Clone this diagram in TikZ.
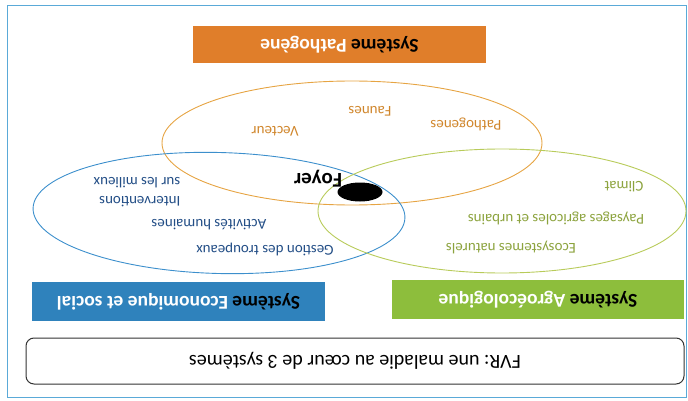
\documentclass[tikz,border=0pt]{standalone}
\usepackage{fontspec}
\setmainfont{Carlito}
\usetikzlibrary{shapes.geometric}
\definecolor{pathofill}{HTML}{E07E2A}
\definecolor{econfill}{HTML}{2F82BC}
\definecolor{agrofill}{HTML}{8DBE3C}
\definecolor{patholine}{HTML}{E6A443}
\definecolor{econline}{HTML}{3C8FCC}
\definecolor{agroline}{HTML}{B8CB5A}
\definecolor{pathotext}{HTML}{D0862C}
\definecolor{econtext}{HTML}{234E86}
\definecolor{agrotext}{HTML}{8CA33E}
\definecolor{framecol}{HTML}{5AAAD8}
\tikzset{
  sysbox/.style={rotate=180, inner sep=0pt, text=black,
                 font=\bfseries\fontsize{19.5}{23}\selectfont},
  sysell/.style={ellipse, draw, line width=0.9pt, inner sep=0pt},
  lbl/.style={rotate=180, inner sep=0pt, font=\fontsize{15}{19}\selectfont}
}
\begin{document}
\begin{tikzpicture}[x=1pt,y=-1pt]
\useasboundingbox (0,0) rectangle (688,401);
\draw[framecol, line width=1pt] (7,6) rectangle (686,397);
% les trois systemes
\node[sysbox, fill=pathofill, minimum width=293pt, minimum height=37pt] (pathobox) at (339.5,44.5) {Système \textcolor{white}{Pathogène}};
\node[sysbox, fill=econfill, minimum width=293pt, minimum height=39pt] (econbox) at (178.5,301.5) {Système \textcolor{white}{Economique et social}};
\node[sysbox, fill=agrofill, minimum width=292pt, minimum height=39pt] (agrobox) at (538,299.5) {Système \textcolor{white}{Agroécologique}};
\node[sysell, draw=patholine, minimum width=380pt, minimum height=124pt] (pathoell) at (352,143) {};
\node[sysell, draw=econline, minimum width=372pt, minimum height=121pt, rotate=-1.5] (econell) at (219,213) {};
\node[sysell, draw=agroline, minimum width=368pt, minimum height=124pt] (agroell) at (502,211) {};
% foyer
\node[ellipse, fill=black, minimum width=45pt, minimum height=19pt, inner sep=0pt] (foyer) at (360,192) {};
\node[rotate=180, inner sep=0pt, font=\bfseries\fontsize{21}{24}\selectfont] (foyerlbl) at (318,179) {Foyer};
% elements
\node[lbl, text=pathotext] (vecteur) at (275,131) {Vecteur};
\node[lbl, text=pathotext] (faunes) at (370,111) {Faunes};
\node[lbl, text=pathotext] (pathogenes) at (466,124) {Pathogenes};
\node[lbl, text=agrotext] (climat) at (624,187) {Climat};
\node[lbl, text=agrotext] (paysages) at (556,218) {Paysages agricoles et urbains};
\node[lbl, text=agrotext] (ecosys) at (511,247) {Ecosystemes naturels};
\node[lbl, text=econtext, align=left] (interv) at (137,192) {Interventions\\sur les milieux};
\node[lbl, text=econtext] (activites) at (209,225) {Activités humaines};
\node[lbl, text=econtext] (gestion) at (265,249) {Gestion des troupeaux};
% legende
\node[draw=black!80, line width=1pt, rounded corners=8pt, minimum width=658pt, minimum height=46pt, rotate=180, font=\fontsize{20}{24}\selectfont] (legende) at (355,361) {FVR: une maladie au cœur de 3 systèmes};
\end{tikzpicture}
\end{document}
